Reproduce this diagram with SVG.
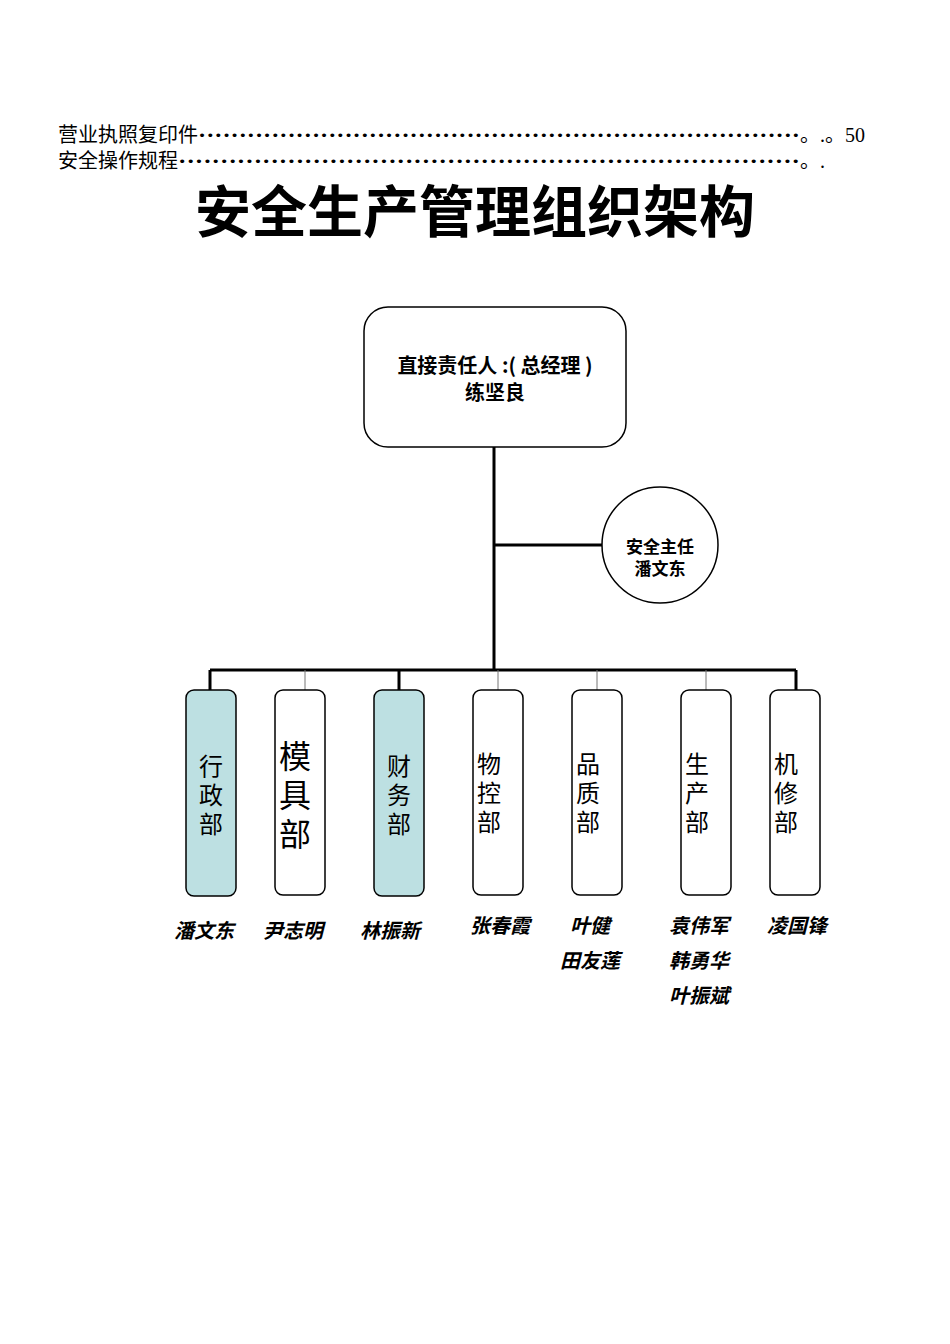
<svg xmlns="http://www.w3.org/2000/svg" width="950" height="1344" viewBox="0 0 950 1344">
<style>
.toc{font-family:"Liberation Serif","Noto Sans CJK SC",serif;font-size:20px;fill:#000}
.box{fill:#fff;stroke:#000;stroke-width:1.5}
.teal{fill:#bde0e2}
.dept{font-family:"Noto Sans CJK SC",sans-serif;font-size:24px;text-anchor:middle;fill:#000}
.big{font-size:32px}
.name{font-family:"Noto Sans CJK SC",sans-serif;font-size:20px;font-weight:bold;font-style:italic;text-anchor:middle;fill:#000}
.thick{stroke:#000;stroke-width:3;fill:none}
.thin{stroke:#777;stroke-width:1;fill:none}
</style>
<rect width="950" height="1344" fill="#fff"/>
<text class="toc" x="58" y="142">营业执照复印件<tspan font-weight="bold" textLength="602" lengthAdjust="spacingAndGlyphs">··········································································</tspan>。.。50</text>
<text class="toc" x="58" y="168">安全操作规程<tspan font-weight="bold" textLength="622" lengthAdjust="spacingAndGlyphs">··········································································</tspan>。.</text>
<text x="475" y="232" text-anchor="middle" font-family="Noto Sans CJK SC,sans-serif" font-size="56" font-weight="bold">安全生产管理组织架构</text>
<g id="connectors">
<path class="thick" d="M494 447V670M494 545H602M210 670H796M210 670V690M399 670V690M796 670V690"/>
<path class="thin" d="M305 670V690M498 670V690M597 670V690M706 670V690"/>
</g>
<g id="top"><rect class="box" x="364" y="307" width="262" height="140" rx="24" stroke-width="2"/>
<text x="495" y="373" text-anchor="middle" font-family="Noto Sans CJK SC,sans-serif" font-size="20" font-weight="bold">直接责任人 :( 总经理 )</text>
<text x="495" y="400" text-anchor="middle" font-family="Noto Sans CJK SC,sans-serif" font-size="20" font-weight="bold">练坚良</text></g>
<g id="safety"><circle class="box" cx="660" cy="545" r="58" stroke-width="1"/>
<text x="660" y="553" text-anchor="middle" font-family="Noto Sans CJK SC,sans-serif" font-size="17" font-weight="bold">安全主任</text>
<text x="660" y="575" text-anchor="middle" font-family="Noto Sans CJK SC,sans-serif" font-size="17" font-weight="bold">潘文东</text></g>
<g id="d1"><rect class="box teal" x="186" y="690" width="50" height="206" rx="8"/><text class="dept" x="211" y="775">行</text><text class="dept" x="211" y="804">政</text><text class="dept" x="211" y="833">部</text><text class="name" x="204" y="938">潘文东</text></g>
<g id="d2"><rect class="box" x="275" y="690" width="50" height="205" rx="8"/><text class="dept big" x="295" y="768">模</text><text class="dept big" x="295" y="807">具</text><text class="dept big" x="295" y="846">部</text><text class="name" x="293" y="938">尹志明</text></g>
<g id="d3"><rect class="box teal" x="374" y="690" width="50" height="206" rx="8"/><text class="dept" x="399" y="775">财</text><text class="dept" x="399" y="804">务</text><text class="dept" x="399" y="833">部</text><text class="name" x="390" y="938">林振新</text></g>
<g id="d4"><rect class="box" x="473" y="690" width="50" height="205" rx="8"/><text class="dept" x="489" y="773">物</text><text class="dept" x="489" y="802">控</text><text class="dept" x="489" y="831">部</text><text class="name" x="500" y="933">张春霞</text></g>
<g id="d5"><rect class="box" x="572" y="690" width="50" height="205" rx="8"/><text class="dept" x="588" y="773">品</text><text class="dept" x="588" y="802">质</text><text class="dept" x="588" y="831">部</text><text class="name" x="590" y="933">叶健</text><text class="name" x="590" y="968">田友莲</text></g>
<g id="d6"><rect class="box" x="681" y="690" width="50" height="205" rx="8"/><text class="dept" x="697" y="773">生</text><text class="dept" x="697" y="802">产</text><text class="dept" x="697" y="831">部</text><text class="name" x="699" y="933">袁伟军</text><text class="name" x="699" y="968">韩勇华</text><text class="name" x="699" y="1003">叶振斌</text></g>
<g id="d7"><rect class="box" x="770" y="690" width="50" height="205" rx="8"/><text class="dept" x="786" y="773">机</text><text class="dept" x="786" y="802">修</text><text class="dept" x="786" y="831">部</text><text class="name" x="797" y="933">凌国锋</text></g>
</svg>
